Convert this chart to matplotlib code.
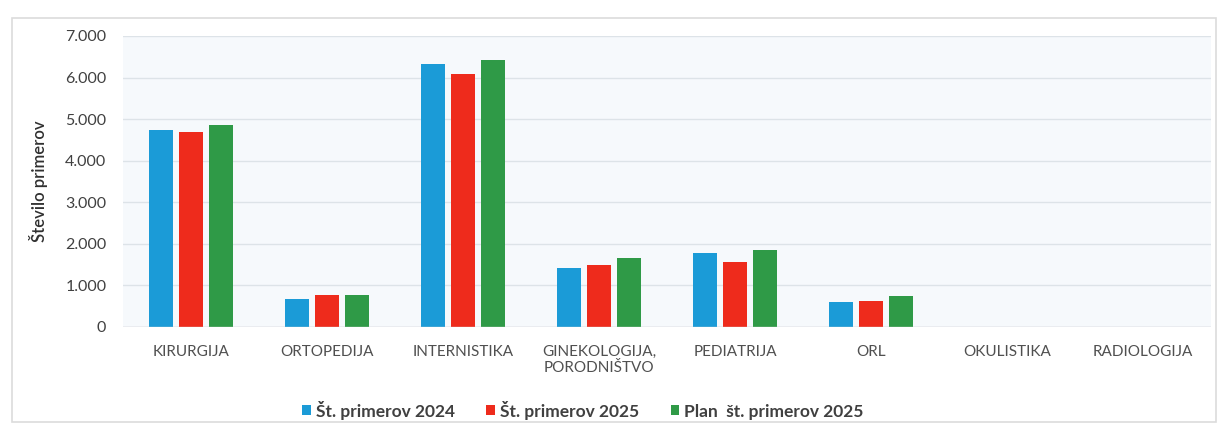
import numpy as np
import matplotlib.pyplot as plt
from matplotlib.ticker import FuncFormatter
from matplotlib.patches import Rectangle

categories = ['KIRURGIJA', 'ORTOPEDIJA', 'INTERNISTIKA', 'GINEKOLOGIJA,\nPORODNIŠTVO',
              'PEDIATRIJA', 'ORL', 'OKULISTIKA', 'RADIOLOGIJA']
primeri_2024 = [4740, 670, 6320, 1430, 1770, 590, 0, 0]
primeri_2025 = [4690, 770, 6080, 1480, 1570, 630, 0, 0]
plan_2025 = [4870, 770, 6420, 1650, 1860, 750, 0, 0]
series_names = ['Št. primerov 2024', 'Št. primerov 2025', 'Plan  št. primerov 2025']
colors = ['#1b9bd7', '#ee2b1c', '#2f9a47']

plt.rcParams['font.family'] = ['Lato', 'DejaVu Sans']

fig = plt.figure(figsize=(12.2, 4.32), dpi=100)
ax = fig.add_axes([123 / 1220, 1 - 327 / 432, (1211 - 123) / 1220, (327 - 36) / 432])

# outer chart frame
fig.patches.append(Rectangle((12 / 1220, 10 / 432), 1204 / 1220, 404 / 432,
                             transform=fig.transFigure, fill=False,
                             edgecolor='#dcdcdc', linewidth=1.2))

x = np.arange(len(categories))
width = 0.177
step = 0.22
for i, (vals, name, c) in enumerate(zip([primeri_2024, primeri_2025, plan_2025], series_names, colors)):
    ax.bar(x + (i - 1) * step, vals, width, color=c, label=name, zorder=3)

ax.set_xlim(-0.5, len(categories) - 0.5)
ax.set_ylim(0, 7000)
ax.set_yticks(range(0, 7001, 1000))
ax.yaxis.set_major_formatter(FuncFormatter(lambda v, p: f'{int(v):,}'.replace(',', '.')))
ax.set_facecolor('#f6f9fc')
ax.grid(axis='y', color='#dde3e8', linewidth=1, zorder=0)
for s in ax.spines.values():
    s.set_visible(False)
ax.axhline(0, color='#d0d0d0', linewidth=1, zorder=4)

ax.set_xticks(x)
ax.set_xticklabels(categories, fontsize=11, color='#505050')
ax.tick_params(axis='x', length=0, pad=13)
ax.tick_params(axis='y', length=0, pad=12, labelsize=11.5, labelcolor='#404040')
ax.set_ylabel('Število primerov', fontsize=12, fontweight='semibold', color='#303030', labelpad=12)

leg = fig.legend(loc='center', bbox_to_anchor=(583 / 1220, 1 - 410 / 432), ncol=3,
                 frameon=False, handlelength=0.5, handleheight=0.5,
                 handletextpad=0.3, columnspacing=1.8, prop={'weight': 'bold', 'size': 12.5})
for t in leg.get_texts():
    t.set_color('#404040')

fig.savefig('out.png', dpi=100)
